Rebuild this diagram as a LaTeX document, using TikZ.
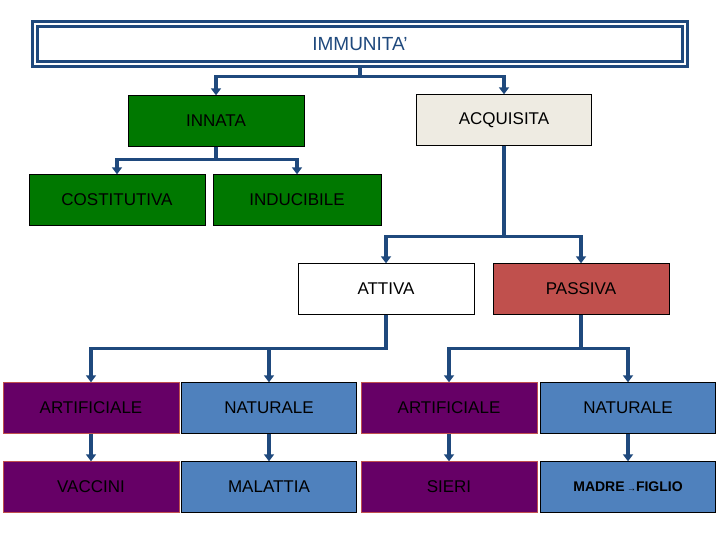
\documentclass[tikz,border=0pt]{standalone}
\usepackage{fontspec}
\setmainfont{Liberation Sans}
\usetikzlibrary{positioning,arrows.meta}
\definecolor{linkblue}{HTML}{1F497D}
\definecolor{innatagreen}{HTML}{007800}
\definecolor{acqbeige}{HTML}{EEEBE2}
\definecolor{passred}{HTML}{C0504D}
\definecolor{artpurple}{HTML}{660066}
\definecolor{natblue}{HTML}{4F81BD}
\tikzset{
  box/.style={draw=black,minimum height=51pt,inner sep=0pt,font=\fontsize{17}{20}\selectfont},
  link/.style={draw=linkblue,line width=3.5pt},
  tip/.style={link,-{Triangle[width=10pt,length=7pt]}}
}
\begin{document}
\begin{tikzpicture}[x=1pt,y=-1pt]
\useasboundingbox (0,0) rectangle (720,540);
% titolo
\node[draw=linkblue,line width=3pt,double=white,double distance=2pt,minimum width=650pt,minimum height=40pt,text=linkblue,font=\fontsize{19}{22}\selectfont] (imm) at (360,44) {IMMUNITA’};
% primo livello
\node[box,fill=innatagreen,minimum width=176pt] (inn) at (216,121) {INNATA};
\node[box,fill=acqbeige,minimum width=175pt] (acq) at (504,120) {ACQUISITA};
\node[box,fill=innatagreen,minimum width=176pt] (cost) at (117,200) {COSTITUTIVA};
\node[box,fill=innatagreen,minimum width=168pt] (indu) at (297,200) {INDUCIBILE};
\node[box,fill=white,minimum width=176pt] (att) at (386,289) {ATTIVA};
\node[box,fill=passred,minimum width=176pt] (pass) at (581,289) {PASSIVA};
% terzo livello
\node[box,fill=artpurple,draw=passred,minimum width=176pt] (art1) at (91,408) {ARTIFICIALE};
\node[box,fill=natblue,minimum width=175pt] (nat1) at (269,408) {NATURALE};
\node[box,fill=artpurple,draw=passred,minimum width=176pt] (art2) at (449,408) {ARTIFICIALE};
\node[box,fill=natblue,minimum width=175pt] (nat2) at (628,408) {NATURALE};
\node[box,fill=artpurple,draw=passred,minimum width=176pt] (vac) at (91,487) {VACCINI};
\node[box,fill=natblue,minimum width=175pt] (mal) at (269,487) {MALATTIA};
\node[box,fill=artpurple,draw=passred,minimum width=176pt] (sie) at (449,487) {SIERI};
\node[box,fill=natblue,minimum width=175pt,font=\fontsize{14}{16}\selectfont\bfseries] (mad) at (628,487) {MADRE\,{\fontsize{9}{9}\selectfont→}FIGLIO};
% collegamenti
\draw[tip] (imm.south) -- ++(0,11) -| (inn.north);
\draw[tip] (imm.south) -- ++(0,11) -| (acq.north);
\draw[tip] (inn.south) -- ++(0,13) -| (cost.north);
\draw[tip] (inn.south) -- ++(0,13) -| (indu.north);
\draw[tip] (acq.south) -- ++(0,91) -| (att.north);
\draw[tip] (acq.south) -- ++(0,91) -| (pass.north);
\draw[tip] (att.south) -- ++(0,34) -| (art1.north);
\draw[tip] (att.south) -- ++(0,34) -| (nat1.north);
\draw[tip] (pass.south) -- ++(0,34) -| (art2.north);
\draw[tip] (pass.south) -- ++(0,34) -| (nat2.north);
\draw[tip] (art1) -- (vac);
\draw[tip] (nat1) -- (mal);
\draw[tip] (art2) -- (sie);
\draw[tip] (nat2) -- (mad);
\end{tikzpicture}
\end{document}
